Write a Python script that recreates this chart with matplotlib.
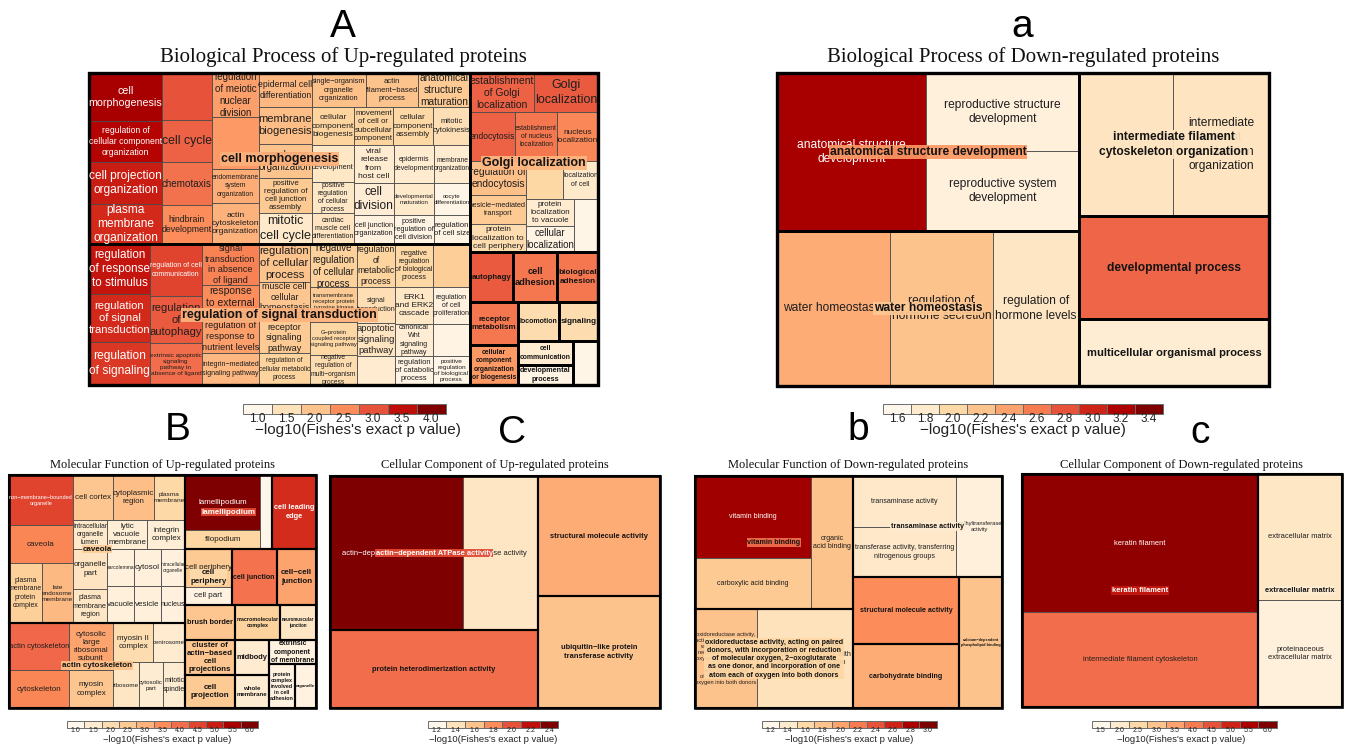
import matplotlib
matplotlib.use('Agg')
import matplotlib.pyplot as plt
from matplotlib.patches import Rectangle
from matplotlib.colors import Normalize, to_rgb
from matplotlib.font_manager import FontProperties

SANS = 'Liberation Sans'
SERIF = 'Liberation Serif'
plt.rcParams['font.family'] = SANS
cmap = plt.get_cmap('OrRd')


# treemap shape helpers: an int n inside a row/col means n consecutive terms
def row(*kids):
    return ('h', kids)


def col(*kids):
    return ('v', kids)


def grp(kid):
    return ('g', kid)


# ---------------- Biological Process, up-regulated ----------------
A_terms = [
    'cell morphogenesis', 'regulation of cellular component organization',
    'cell projection organization', 'plasma membrane organization',
    '', 'cell cycle', 'chemotaxis', 'hindbrain development',
    'regulation of meiotic nuclear division', '', 'endomembrane system organization',
    'actin cytoskeleton organization',
    'epidermal cell differentiation', 'membrane biogenesis', 'membrane organization',
    'positive regulation of cell junction assembly', 'mitotic cell cycle',
    'single−organism organelle organization', 'actin filament−based process',
    'anatomical structure maturation',
    'cellular component biogenesis', 'movement of cell or subcellular component',
    'cellular component assembly', 'mitotic cytokinesis',
    'cell development', 'positive regulation of cellular process',
    'cardiac muscle cell differentiation',
    'viral release from host cell', 'cell division', 'cell junction organization',
    'epidermis development', 'developmental maturation',
    'positive regulation of cell division',
    'membrane organization', 'oocyte differentiation', 'regulation of cell size',
    'regulation of response to stimulus', 'regulation of signal transduction',
    'regulation of signaling',
    'regulation of cell communication', 'regulation of autophagy',
    'extrinsic apoptotic signaling pathway in absence of ligand',
    'signal transduction in absence of ligand', 'response to external stimulus',
    'regulation of response to nutrient levels', 'integrin−mediated signaling pathway',
    'regulation of cellular process', 'muscle cell cellular homeostasis',
    'cell surface receptor signaling pathway', 'regulation of cellular metabolic process',
    'negative regulation of cellular process',
    'transmembrane receptor protein tyrosine kinase signaling pathway',
    'G−protein coupled receptor signaling pathway',
    'negative regulation of multi−organism process',
    'regulation of metabolic process', 'signal transduction',
    'apoptotic signaling pathway', '',
    'negative regulation of biological process', 'ERK1 and ERK2 cascade',
    'canonical Wnt signaling pathway', 'regulation of catabolic process',
    '', 'regulation of cell proliferation', '',
    'positive regulation of biological process',
    'establishment of Golgi localization', 'Golgi localization',
    'endocytosis', 'establishment of nucleus localization', 'nucleus localization',
    'regulation of endocytosis', 'vesicle−mediated transport',
    'protein localization to cell periphery',
    '', 'localization of cell', 'protein localization to vacuole',
    'cellular localization', '',
    'autophagy', 'cell adhesion', 'biological adhesion', 'receptor metabolism',
    'cellular component organization or biogenesis',
    'locomotion', 'signaling', 'cell communication', 'developmental process', '',
]
A_sizes = [
    350, 299, 307, 292, 235, 210, 215, 195, 207, 244, 160, 193,
    180, 196, 180, 186, 164, 184, 177, 177, 160, 148, 152, 141,
    155, 130, 130, 152, 128, 116, 152, 128, 116, 137, 115, 104,
    305, 293, 262, 270, 244, 218, 234, 200, 188, 182,
    194, 153, 209, 163, 202, 165, 155, 141,
    163, 137, 125, 110, 163, 141, 122, 110, 159, 137, 118, 107,
    250, 250, 221, 206, 201, 190, 162, 157, 141, 133, 130, 125, 127,
    215, 220, 205, 206, 192, 160, 152, 132, 110, 110,
]
A_values = [
    3.7, 3.6, 3.4, 3.3, 3.0, 2.9, 2.75, 2.5, 2.35, 2.4, 2.25, 2.2,
    2.15, 2.1, 2.0, 1.9, 1.35, 2.05, 2.0, 1.9, 1.75, 1.75, 1.7, 1.55,
    1.4, 1.4, 1.45, 1.3, 1.25, 1.15, 1.3, 1.35, 1.1, 1.3, 1.05, 1.1,
    3.45, 3.3, 3.2, 3.1, 2.95, 2.8, 2.6, 2.5, 2.35, 2.15,
    2.0, 1.95, 1.9, 1.75, 1.8, 1.9, 1.7, 1.6,
    1.75, 1.55, 1.45, 1.3, 1.7, 1.4, 1.25, 1.1, 1.85, 1.15, 1.1, 1.05,
    2.9, 2.95, 2.9, 2.7, 2.55, 2.05, 1.9, 1.6, 1.7, 1.35, 1.3, 1.1, 1.05,
    2.95, 2.7, 2.7, 2.7, 2.4, 1.6, 1.6, 1.3, 1.1, 1.05,
]
A_groups = [
    'cell morphogenesis', 'regulation of signal transduction', 'Golgi localization',
    'autophagy', 'cell adhesion', 'biological adhesion', 'receptor metabolism',
    'cellular component organization or biogenesis', 'locomotion', 'signaling',
    'cell communication', 'developmental process', '',
]
A_ticks = [1.0, 1.5, 2.0, 2.5, 3.0, 3.5, 4.0]

# ---------------- Biological Process, down-regulated ----------------
a_terms = [
    'anatomical structure development', 'reproductive structure development',
    'reproductive system development', 'water homeostasis',
    'regulation of hormone secretion', 'regulation of hormone levels', '',
    'intermediate filament cytoskeleton organization', 'developmental process',
    'multicellular organismal process',
]
a_sizes = [2354, 1193, 1224, 1752, 1597, 1333, 1344, 1373, 1957, 1273]
a_values = [3.22, 1.7, 1.7, 2.35, 2.2, 1.85, 1.87, 1.87, 2.72, 1.76]
a_groups = [
    'anatomical structure development', 'water homeostasis',
    'intermediate filament cytoskeleton organization', 'developmental process',
    'multicellular organismal process',
]
a_ticks = [1.6, 1.8, 2.0, 2.2, 2.4, 2.6, 2.8, 3.0, 3.2, 3.4]

# ---------------- up-regulated, "Molecular Function" panel ----------------
B_terms = [
    'non−membrane−bounded organelle', 'caveola', 'plasma membrane protein complex',
    'late endosome membrane', 'cell cortex', 'cytoplasmic region', 'plasma membrane',
    'intracellular organelle lumen', 'lytic vacuole membrane', 'integrin complex',
    'organelle part', 'plasma membrane region', 'sarcolemma', 'cytosol',
    'intracellular organelle', 'vacuole', 'vesicle', 'nucleus',
    'actin cytoskeleton', 'cytoskeleton', 'cytosolic large ribosomal subunit',
    'myosin complex', 'myosin II complex', 'centrosome', 'ribosome', 'cytosolic part',
    'mitotic spindle',
    'lamellipodium', 'filopodium', '', 'cell leading edge',
    'cell periphery', 'cell part', 'cell junction', 'cell−cell junction',
    'brush border', 'cluster of actin−based cell projections', 'cell projection',
    'macromolecular complex', 'neuromuscular junction', 'midbody', 'whole membrane',
    'extrinsic component of membrane', 'protein complex involved in cell adhesion',
    'organelle',
]
B_sizes = [
    320, 243, 198, 186, 180, 185, 140, 99, 116, 110, 136, 116, 100, 100, 89,
    100, 100, 89, 282, 228, 207, 167, 156, 125, 120, 110, 101,
    413, 143, 89, 326, 174, 85, 252, 218, 175, 175, 165, 158, 126, 119, 112,
    113, 114, 92,
]
B_values = [
    4.5, 3.6, 2.35, 2.9, 2.6, 2.8, 2.1, 1.6, 1.4, 1.4, 1.75, 1.7, 1.3, 1.3, 1.25,
    1.3, 1.3, 1.25, 4.1, 3.6, 3.2, 2.6, 2.0, 1.5, 1.7, 1.45, 1.45,
    6.0, 2.2, 1.05, 4.8, 2.5, 1.2, 3.9, 3.2, 2.6, 2.6, 2.5, 2.3, 1.7, 1.5, 1.45,
    1.2, 1.2, 1.2,
]
B_groups = [
    'caveola', 'actin cytoskeleton', 'lamellipodium', 'cell leading edge',
    'cell periphery', 'cell junction', 'cell−cell junction', 'brush border',
    'cluster of actin−based cell projections', 'cell projection',
    'macromolecular complex', 'neuromuscular junction', 'midbody', 'whole membrane',
    'extrinsic component of membrane', 'protein complex involved in cell adhesion',
    'organelle',
]
B_ticks = [1.0, 1.5, 2.0, 2.5, 3.0, 3.5, 4.0, 4.5, 5.0, 5.5, 6.0]

# ---------------- up-regulated, "Cellular Component" panel ----------------
C_terms = [
    'actin−dependent ATPase activity', 'ATPase activity',
    'protein heterodimerization activity', 'structural molecule activity',
    'ubiquitin−like protein transferase activity',
]
C_sizes = [2048, 1155, 1622, 1464, 1366]
C_values = [2.4, 1.37, 1.92, 1.7, 1.6]
C_groups = [
    'actin−dependent ATPase activity', 'protein heterodimerization activity',
    'structural molecule activity', 'ubiquitin−like protein transferase activity',
]
C_ticks = [1.2, 1.4, 1.6, 1.8, 2.0, 2.2, 2.4]

# ---------------- Molecular Function, down-regulated ----------------
OXO_LONG = ('oxidoreductase activity, acting on paired donors, with incorporation or '
            'reduction of molecular oxygen, 2−oxoglutarate as one donor, and '
            'incorporation of one atom each of oxygen into both donors')
OXO_SHORT = ('oxidoreductase activity, acting on paired donors, with incorporation or '
             'reduction of molecular oxygen')
b_terms = [
    'vitamin binding', 'carboxylic acid binding', 'organic acid binding',
    OXO_LONG, OXO_SHORT,
    'transaminase activity', 'transferase activity, transferring nitrogenous groups',
    'methyltransferase activity', 'structural molecule activity',
    'carbohydrate binding', 'calcium−dependent phospholipid binding',
]
b_sizes = [951, 592, 559, 614, 950, 525, 515, 465, 710, 678, 563]
b_values = [2.85, 1.74, 1.8, 1.8, 1.5, 1.42, 1.42, 1.3, 2.1, 1.95, 1.8]
b_groups = [
    'vitamin binding', OXO_LONG, 'transaminase activity', 'structural molecule activity',
    'carbohydrate binding', 'calcium−dependent phospholipid binding',
]
b_ticks = [1.2, 1.4, 1.6, 1.8, 2.0, 2.2, 2.4, 2.6, 2.8, 3.0]

# ---------------- Cellular Component, down-regulated ----------------
c_terms = [
    'keratin filament', 'intermediate filament cytoskeleton', 'extracellular matrix',
    'proteinaceous extracellular matrix',
]
c_sizes = [3257, 2242, 1058, 899]
c_values = [5.8, 4.2, 2.1, 1.75]
c_groups = ['keratin filament', 'extracellular matrix']
c_ticks = [1.5, 2.0, 2.5, 3.0, 3.5, 4.0, 4.5, 5.0, 5.5, 6.0]

# ---------------- treemap shapes ----------------
A_shape = row(
    col(grp(row(col(4), col(4), col(4), col(5),
                col(row(3), row(4), row(col(3), col(3), col(3), col(3))))),
        grp(row(col(3), col(3), col(4), col(4), col(4), col(4), col(4), col(4)))),
    col(grp(col(row(2), row(3), row(col(3), col(row(2), row(col(2), 1))))),
        col(row(grp(1), grp(1), grp(1)),
            row(col(grp(1), grp(1)),
                col(row(grp(1), grp(1)), row(col(grp(1), grp(1)), grp(1)))))))
a_shape = row(col(grp(row(1, col(2))), grp(row(3))),
              col(grp(row(2)), grp(1), grp(1)))
B_shape = row(
    col(grp(row(col(1, 1, row(2)),
                col(row(3), row(3), row(col(2), col(row(3), row(3)))))),
        grp(row(col(2), col(2), col(row(2), row(3))))),
    col(row(grp(row(col(2), 1)), grp(1)),
        row(grp(col(2)), grp(1), grp(1)),
        row(col(grp(1), grp(1), grp(1)),
            col(row(grp(1), grp(1)),
                row(col(grp(1), grp(1)), col(grp(1), row(grp(1), grp(1))))))))
C_shape = row(col(grp(row(2)), grp(1)), col(grp(1), grp(1)))
b_shape = row(col(grp(row(col(2), 1)), grp(row(2))),
              col(grp(row(col(2), 1)), row(col(grp(1), grp(1)), grp(1))))
c_shape = row(grp(col(2)), grp(col(2)))

panels = [
    dict(terms=A_terms, values=A_values, sizes=A_sizes, groups=A_groups, shape=A_shape,
         ticks=A_ticks, box=(89, 73, 598, 385), cap=12.5, gw=2.0,
         title='Biological Process of Up-regulated proteins', title_y=57, title_fs=15,
         letter='A', letter_xy=(343, 37),
         cb_y=404, cb_h=10, cb_cell=29, cb_cx=344, tick_fs=8.5, lab_fs=11, tick_dy=5,
         lab_dy=16, lab_dx=14),
    dict(terms=a_terms, values=a_values, sizes=a_sizes, groups=a_groups, shape=a_shape,
         ticks=a_ticks, box=(777, 73, 1269, 386), cap=12, gw=2.0,
         title='Biological Process of Down-regulated proteins', title_y=57, title_fs=15,
         letter='a', letter_xy=(1022, 37),
         cb_y=404, cb_h=10, cb_cell=28, cb_cx=1023, tick_fs=8.5, lab_fs=11, tick_dy=5,
         lab_dy=16, lab_dx=0),
    dict(terms=B_terms, values=B_values, sizes=B_sizes, groups=B_groups, shape=B_shape,
         ticks=B_ticks, box=(9, 475, 316, 708), cap=8, gw=1.5,
         title='Molecular Function of Up-regulated proteins', title_y=465, title_fs=9,
         letter='B', letter_xy=(178, 440),
         cb_y=721, cb_h=6.5, cb_cell=17.4, cb_cx=162.5, tick_fs=5, lab_fs=6.8, tick_dy=3.5,
         lab_dy=12.5, lab_dx=5),
    dict(terms=C_terms, values=C_values, sizes=C_sizes, groups=C_groups, shape=C_shape,
         ticks=C_ticks, box=(330, 476, 660, 708), cap=7.5, gw=1.5,
         title='Cellular Component of Up-regulated proteins', title_y=465, title_fs=9,
         letter='C', letter_xy=(512, 443),
         cb_y=721, cb_h=6.5, cb_cell=18.7, cb_cx=493, tick_fs=5, lab_fs=6.8, tick_dy=3.5,
         lab_dy=12.5, lab_dx=0),
    dict(terms=b_terms, values=b_values, sizes=b_sizes, groups=b_groups, shape=b_shape,
         ticks=b_ticks, box=(695, 476, 1002, 708), cap=7.2, gw=1.5,
         title='Molecular Function of Down-regulated proteins', title_y=465, title_fs=9,
         letter='b', letter_xy=(858, 440),
         cb_y=721, cb_h=6.5, cb_cell=17.5, cb_cx=849, tick_fs=5, lab_fs=6.8, tick_dy=3.5,
         lab_dy=12.5, lab_dx=0),
    dict(terms=c_terms, values=c_values, sizes=c_sizes, groups=c_groups, shape=c_shape,
         ticks=c_ticks, box=(1022, 474, 1342, 707), cap=7.5, gw=1.5,
         title='Cellular Component of Down-regulated proteins', title_y=465, title_fs=9,
         letter='c', letter_xy=(1200, 443),
         cb_y=721, cb_h=6.5, cb_cell=18.5, cb_cx=1184, tick_fs=5, lab_fs=6.8, tick_dy=3.5,
         lab_dy=12.5, lab_dx=-3),
]

W, H, DPI = 1358, 747, 100
fig = plt.figure(figsize=(W / DPI, H / DPI), dpi=DPI)
ax = fig.add_axes([0, 0, 1, 1])
ax.set_xlim(0, W)
ax.set_ylim(H, 0)
ax.axis('off')
renderer = fig.canvas.get_renderer()

LINE_H = 1.12
_em = {}


def text_em(s, weight):
    key = (s, weight)
    if key not in _em:
        fp = FontProperties(family=SANS, weight=weight, size=100)
        w, _, _ = renderer.get_text_width_height_descent(s, fp, ismath=False)
        _em[key] = w / (100 * DPI / 72)
    return _em[key]


def split_lines(words, k, weight):
    # break words into k lines keeping the widest line as narrow as possible
    n = len(words)
    inf = float('inf')
    best = [[inf] * (n + 1) for _ in range(k + 1)]
    back = [[0] * (n + 1) for _ in range(k + 1)]
    best[0][0] = 0
    for m in range(1, k + 1):
        for j in range(m, n + 1):
            for i in range(m - 1, j):
                if best[m - 1][i] == inf:
                    continue
                v = max(best[m - 1][i], text_em(' '.join(words[i:j]), weight))
                if v < best[m][j]:
                    best[m][j] = v
                    back[m][j] = i
    lines, j = [], n
    for m in range(k, 0, -1):
        i = back[m][j]
        lines.append(' '.join(words[i:j]))
        j = i
    return lines[::-1], best[k][n]


def fit_label(text, w, h, weight, cap, keep, wfill=1.0):
    words = text.split()
    options = []
    for k in range(1, min(len(words), 9) + 1):
        lines, wid = split_lines(words, k, weight)
        size = min(wfill * w / wid, 1.0 * h / (k * LINE_H), cap)
        options.append((size, '\n'.join(lines)))
    top = max(s for s, _ in options)
    for size, txt in options:
        if size >= keep * top:
            return size, txt


def luminance(c):
    r, g, b = to_rgb(c)
    return 0.2126 * r + 0.7152 * g + 0.0722 * b


def build(shape, d, cur, sizes):
    if isinstance(shape, int):
        if shape == 1:
            i = cur['leaf']
            cur['leaf'] += 1
            return {'kind': 'leaf', 'i': i, 'size': sizes[i]}
        shape = (d, (1,) * shape)
    kind, body = shape
    if kind == 'g':
        g = cur['group']
        cur['group'] += 1
        child = build(body, d, cur, sizes)
        return {'kind': 'g', 'g': g, 'kids': [child], 'size': child['size']}
    kids = [build(k, kind, cur, sizes) for k in body]
    return {'kind': kind, 'kids': kids, 'size': sum(k['size'] for k in kids)}


def place(node, rect, leaves, groups, gid):
    x0, y0, x1, y1 = rect
    if node['kind'] == 'leaf':
        leaves.append((node['i'], rect, gid))
        return [node['i']]
    if node['kind'] == 'g':
        members = place(node['kids'][0], rect, leaves, groups, node['g'])
        groups.append((node['g'], rect, members))
        return members
    members = []
    pos = x0 if node['kind'] == 'h' else y0
    for k in node['kids']:
        frac = k['size'] / node['size']
        if node['kind'] == 'h':
            r = (pos, y0, pos + (x1 - x0) * frac, y1)
            pos = r[2]
        else:
            r = (x0, pos, x1, pos + (y1 - y0) * frac)
            pos = r[3]
        members += place(k, r, leaves, groups, gid)
    return members


def draw_panel(p):
    terms, values, sizes = p['terms'], p['values'], p['sizes']
    norm = Normalize(p['ticks'][0], p['ticks'][-1])
    tree = build(p['shape'], 'h', {'leaf': 0, 'group': 0}, sizes)
    leaves, groups = [], []
    place(tree, p['box'], leaves, groups, None)
    members_of = {g: m for g, _, m in groups}

    for i, (x0, y0, x1, y1), gid in leaves:
        ax.add_patch(Rectangle((x0, y0), x1 - x0, y1 - y0, fc=cmap(norm(values[i])),
                               ec='#4a4a4a', lw=0.6, zorder=1))
    for g, (x0, y0, x1, y1), m in groups:
        ax.add_patch(Rectangle((x0, y0), x1 - x0, y1 - y0, fc='none', ec='black',
                               lw=p['gw'], zorder=3))
    bx0, by0, bx1, by1 = p['box']
    ax.add_patch(Rectangle((bx0, by0), bx1 - bx0, by1 - by0, fc='none', ec='black',
                           lw=p['gw'] + 0.4, zorder=3))

    # term labels
    for i, (x0, y0, x1, y1), gid in leaves:
        if not terms[i] or len(members_of[gid]) == 1:
            continue
        fill = cmap(norm(values[i]))
        size, txt = fit_label(terms[i], x1 - x0, y1 - y0, 'normal', p['cap'], 0.92)
        ax.text((x0 + x1) / 2, (y0 + y1) / 2, txt, ha='center', va='center',
                ma='center', fontsize=size * 72 / DPI, linespacing=1.25,
                color='white' if luminance(fill) < 0.42 else '#1e1e1e', zorder=4)

    # cluster labels
    for g, (x0, y0, x1, y1), m in groups:
        name = p['groups'][g]
        if not name:
            continue
        mean = sum(values[i] * sizes[i] for i in m) / sum(sizes[i] for i in m)
        bg = cmap(norm(mean))
        size, txt = fit_label(name, x1 - x0, y1 - y0, 'bold', p['cap'], 0.88, 0.92)
        box = None
        if len(m) > 1:
            box = dict(boxstyle='square,pad=0.08', fc=bg, ec='none', alpha=0.92)
        ax.text((x0 + x1) / 2, (y0 + y1) / 2, txt, ha='center', va='center',
                ma='center', fontsize=size * 72 / DPI, fontweight='bold', linespacing=1.25,
                color='white' if luminance(bg) < 0.42 else '#141414', bbox=box, zorder=5)

    # title and panel letter
    cx = (bx0 + bx1) / 2
    ax.text(cx, p['title_y'], p['title'], ha='center', va='center', family=SERIF,
            fontsize=p['title_fs'], color='#111111')
    ax.text(p['letter_xy'][0], p['letter_xy'][1], p['letter'], ha='center',
            va='baseline', fontsize=28, color='black')

    # discrete colour key
    ticks = p['ticks']
    n, cell = len(ticks), p['cb_cell']
    x0 = p['cb_cx'] - n * cell / 2
    for k, t in enumerate(ticks):
        ax.add_patch(Rectangle((x0 + k * cell, p['cb_y']), cell, p['cb_h'],
                               fc=cmap(norm(t)), ec='#6b6b6b', lw=0.7, zorder=2))
        ax.text(x0 + (k + 0.5) * cell, p['cb_y'] + p['cb_h'] + p['tick_dy'], f'{t:.1f}',
                ha='center', va='center', fontsize=p['tick_fs'], color='#222222')
    ax.text(p['cb_cx'] + p['lab_dx'], p['cb_y'] + p['cb_h'] + p['lab_dy'],
            "−log10(Fishes's exact p value)", ha='center', va='center',
            fontsize=p['lab_fs'], color='#222222')


for p in panels:
    draw_panel(p)

fig.savefig('out.png', dpi=DPI, facecolor='white')
